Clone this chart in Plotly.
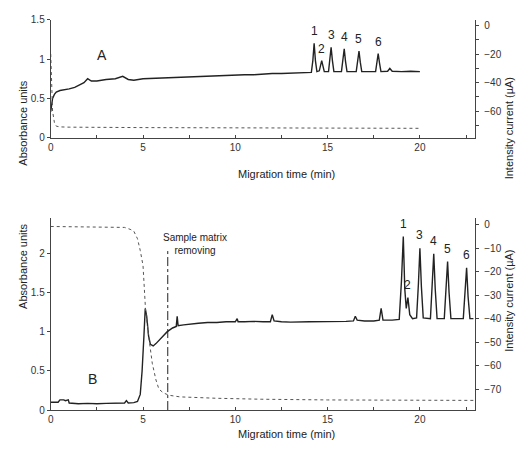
import plotly.graph_objects as go

# ---- Electropherogram A: absorbance (solid) and current (dashed) ----
a_time = [0.0, 0.05, 0.1, 0.2, 0.3, 0.5, 0.8, 1.0, 1.3, 1.6, 1.8, 2.0, 2.2, 2.5,
          3.0, 3.5, 3.9, 4.2, 4.5, 5.0, 5.5, 6.0, 6.5, 7.0, 7.5, 8.0, 8.5, 9.0,
          9.5, 10.0, 10.5, 11.0, 11.5, 12.0, 12.5, 13.0, 13.5, 14.0, 14.12,
          14.2, 14.27, 14.34, 14.42, 14.55, 14.62, 14.68, 14.75, 14.82,
          15.05, 15.12, 15.19, 15.26, 15.34, 15.75, 15.83, 15.9, 15.97, 16.05,
          16.55, 16.63, 16.7, 16.77, 16.85, 17.6, 17.67, 17.74, 17.81, 17.89,
          18.25, 18.37, 18.5, 19.0, 19.5, 20.0]
a_abs = [0.33, 0.45, 0.50, 0.55, 0.58, 0.60, 0.61, 0.62, 0.64, 0.67, 0.70, 0.75,
         0.72, 0.72, 0.74, 0.75, 0.78, 0.74, 0.73, 0.75, 0.755, 0.76, 0.765,
         0.77, 0.775, 0.78, 0.785, 0.785, 0.79, 0.795, 0.80, 0.80, 0.81, 0.815,
         0.815, 0.82, 0.82, 0.825, 0.83,
         0.98, 1.20, 0.98, 0.84, 0.85, 0.92, 0.98, 0.91, 0.84,
         0.84, 0.98, 1.15, 0.98, 0.84, 0.84, 0.97, 1.13, 0.97, 0.84,
         0.84, 0.96, 1.10, 0.96, 0.84, 0.84, 0.95, 1.07, 0.95, 0.84,
         0.845, 0.88, 0.845, 0.84, 0.845, 0.84]
a_cur_time = [0.0, 0.05, 0.1, 0.2, 0.3, 0.5, 1.0, 5.0, 10.0, 15.0, 20.0]
a_current = [-20, -45, -60, -68, -70.5, -71, -71.2, -71.5, -71.7, -72, -72]

a_peak_time = [14.27, 14.68, 15.19, 15.9, 16.7, 17.74]
a_peak_abs = [1.20, 0.98, 1.15, 1.13, 1.10, 1.07]

# ---- Electropherogram B ----
b_time = [0.0, 0.4, 0.5, 0.7, 0.8, 0.95, 1.0, 1.5, 2.0, 2.5, 3.0, 3.5, 4.0, 4.1,
          4.2, 4.5, 4.7, 4.85, 4.95, 5.05, 5.12, 5.2, 5.3, 5.4, 5.55, 5.7, 6.0,
          6.3, 6.6, 6.8, 6.85, 6.9, 7.2, 7.5, 8.0, 8.5, 9.0, 9.5, 10.0, 10.1,
          10.15, 10.5, 11.0, 11.5, 11.9, 12.0, 12.1, 12.5, 13.0, 14.0, 15.0,
          16.0, 16.4, 16.5, 16.6, 17.0, 17.5, 17.8, 17.9, 18.0, 18.5, 18.88,
          19.0, 19.1, 19.18, 19.26, 19.35, 19.45, 19.6,
          19.82, 19.92, 20.0, 20.08, 20.18, 20.57, 20.67, 20.75, 20.83, 20.93,
          21.32, 21.42, 21.5, 21.58, 21.68, 22.35, 22.45, 22.53, 22.61, 22.71, 22.9]
b_abs = [0.10, 0.10, 0.13, 0.13, 0.12, 0.13, 0.09, 0.08, 0.085, 0.08, 0.085, 0.09,
         0.09, 0.12, 0.09, 0.095, 0.11, 0.20, 0.50, 0.95, 1.30, 1.20, 0.95,
         0.84, 0.82, 0.85, 0.92, 1.00, 1.05, 1.07, 1.20, 1.08, 1.09, 1.10,
         1.11, 1.12, 1.12, 1.13, 1.13, 1.17, 1.13, 1.13, 1.135, 1.13, 1.13,
         1.22, 1.14, 1.13, 1.125, 1.13, 1.13, 1.135, 1.14, 1.20, 1.15, 1.14,
         1.14, 1.15, 1.30, 1.15, 1.15, 1.16,
         1.65, 2.22, 1.55, 1.30, 1.44, 1.22, 1.17,
         1.18, 1.62, 2.07, 1.58, 1.18, 1.17, 1.58, 2.00, 1.55, 1.17,
         1.17, 1.52, 1.90, 1.50, 1.17, 1.17, 1.48, 1.82, 1.45, 1.17, 1.17]
b_cur_time = [0.0, 3.5, 4.0, 4.3, 4.5, 4.7, 4.85, 5.0, 5.14, 5.3, 5.5, 5.7, 5.86,
              6.1, 6.4, 7.0, 9.0, 11.4, 15.0, 23.0]
b_current = [-0.8, -0.9, -1.2, -2.0, -2.8, -6, -11, -17.4, -36.7, -47, -58.9,
             -66, -69.9, -71.5, -72.5, -73.2, -73.8, -74.2, -74.5, -74.7]

b_peak_time = [19.1, 19.35, 20.0, 20.75, 21.5, 22.53]
b_peak_abs = [2.22, 1.44, 2.07, 2.00, 1.90, 1.82]

peak_labels = ["1", "2", "3", "4", "5", "6"]
matrix_removal_time = 6.34
matrix_line_top = 2.04

FONT = "Liberation Sans, Arial, sans-serif"
INK = "#222222"
GREY = "#555555"

W, H = 525, 459


def px_x(p):
    return p / W


def px_y(p):
    return 1 - p / H


fig = go.Figure()

fig.add_trace(go.Scatter(x=a_time, y=a_abs, mode="lines", xaxis="x", yaxis="y",
                         line=dict(color=INK, width=1.4), showlegend=False))
fig.add_trace(go.Scatter(x=a_cur_time, y=a_current, mode="lines", xaxis="x", yaxis="y2",
                         line=dict(color=GREY, width=1, dash="dot"), showlegend=False))
fig.add_trace(go.Scatter(x=b_time, y=b_abs, mode="lines", xaxis="x2", yaxis="y3",
                         line=dict(color=INK, width=1.4), showlegend=False))
fig.add_trace(go.Scatter(x=b_cur_time, y=b_current, mode="lines", xaxis="x2", yaxis="y4",
                         line=dict(color=GREY, width=1, dash="dot"), showlegend=False))
# sample matrix removal marker
fig.add_trace(go.Scatter(x=[matrix_removal_time, matrix_removal_time], y=[0, matrix_line_top],
                         mode="lines", xaxis="x2", yaxis="y3",
                         line=dict(color=INK, width=1, dash="dashdot"), showlegend=False))

x_dom = [px_x(48), px_x(475)]
top_dom = [px_y(136), px_y(15)]
bot_dom = [px_y(415), px_y(218)]

tickfont = dict(family=FONT, size=10, color="#333333")
axis_common = dict(showgrid=False, zeroline=False, showline=True, linecolor="#444444",
                   linewidth=1, tickfont=tickfont, ticklen=3, tickcolor="#444444")

xa = dict(axis_common, range=[0, 23], tickvals=[0, 5, 10, 15, 20], ticks="inside",
          minor=dict(dtick=2.5, tick0=0, ticks="inside", ticklen=3, tickcolor="#444444"))

fig.update_layout(
    width=W, height=H,
    margin=dict(l=0, r=0, t=0, b=0),
    paper_bgcolor="white", plot_bgcolor="white",
    xaxis=dict(xa, domain=x_dom, anchor="y"),
    yaxis=dict(axis_common, domain=top_dom, range=[0, 1.5], tickvals=[0, 0.5, 1, 1.5],
               ticktext=["0", "0.5", "1", "1.5"], ticks="outside", anchor="x"),
    yaxis2=dict(axis_common, domain=top_dom, range=[-78.6, 4.1], overlaying="y", side="right",
                anchor="x", tickvals=[0, -20, -40, -60], ticks="outside",
                ticklabelstandoff=3,
                minor=dict(tickvals=[-10, -30, -50, -70], ticks="outside", ticklen=3,
                           tickcolor="#444444")),
    xaxis2=dict(xa, domain=x_dom, anchor="y3"),
    yaxis3=dict(axis_common, domain=bot_dom, range=[0, 2.46], tickvals=[0, 0.5, 1, 1.5, 2],
                ticktext=["0", "0.5", "1", "1.5", "2"], ticks="outside", anchor="x2"),
    yaxis4=dict(axis_common, domain=bot_dom, range=[-78.8, 2.9], overlaying="y3", side="right",
                anchor="x2", tickvals=[0, -10, -20, -30, -40, -50, -60, -70], ticks="outside",
                ticklabelstandoff=3),
)

ann = []
title_font = dict(family=FONT, size=11, color="#222222")
ann.append(dict(text="Absorbance units", x=px_x(12), y=px_y(75), xref="paper", yref="paper",
                textangle=-90, showarrow=False, font=title_font))
ann.append(dict(text="Absorbance units", x=px_x(12), y=px_y(313), xref="paper", yref="paper",
                textangle=-90, showarrow=False, font=title_font))
ann.append(dict(text="Intensity current (µA)", x=px_x(517), y=px_y(72), xref="paper",
                yref="paper", textangle=-90, showarrow=False, font=title_font))
ann.append(dict(text="Intensity current (µA)", x=px_x(517), y=px_y(303), xref="paper",
                yref="paper", textangle=-90, showarrow=False, font=title_font))
ann.append(dict(text="Migration time (min)", x=px_x(285), y=px_y(173), xref="paper",
                yref="paper", showarrow=False, font=title_font))
ann.append(dict(text="Migration time (min)", x=px_x(285), y=px_y(448), xref="paper",
                yref="paper", showarrow=False, font=title_font))

# panel letters
ann.append(dict(text="A", x=2.8, y=1.05, xref="x", yref="y", showarrow=False,
                font=dict(family=FONT, size=14, color="#222222")))
ann.append(dict(text="B", x=2.26, y=0.40, xref="x2", yref="y3", showarrow=False,
                font=dict(family=FONT, size=14, color="#222222")))

# peak numbers
peak_font = dict(family=FONT, size=12, color="#222222")
for t, v, lab in zip(a_peak_time, a_peak_abs, peak_labels):
    ann.append(dict(text=lab, x=t, y=v, xref="x", yref="y", showarrow=False,
                    yanchor="bottom", yshift=3, font=peak_font))
for t, v, lab in zip(b_peak_time, b_peak_abs, peak_labels):
    ann.append(dict(text=lab, x=t, y=v, xref="x2", yref="y3", showarrow=False,
                    yanchor="bottom", yshift=4, font=peak_font))

ann.append(dict(text="Sample matrix<br>removing", x=px_x(193), y=px_y(245), xref="paper",
                yref="paper", showarrow=False, align="center",
                font=dict(family=FONT, size=10, color="#222222")))

fig.update_layout(annotations=ann)

fig.write_html("out.html")
